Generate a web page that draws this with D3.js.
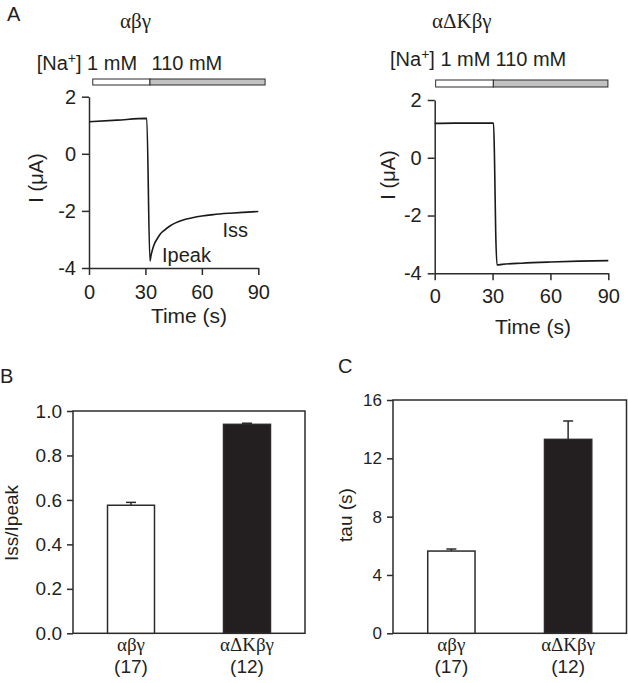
<!DOCTYPE html>
<html><head><meta charset="utf-8">
<script src="https://cdn.jsdelivr.net/npm/d3@7"></script>
<style>
body{margin:0;background:#fff}
svg{display:block}
text{font-family:"Liberation Sans",Arial,Helvetica,sans-serif;fill:#231f20}
.greek{font-family:"Liberation Serif","Times New Roman",serif}
</style>
</head><body>
<svg id="c" width="628" height="683"></svg>
<script>
// ---------- DATA ----------
const traceTitles = ["αβγ", "αΔKβγ"];
const naLabels = ["1 mM", "110 mM"];
// stimulus segments [start, split, end] in seconds
const stimWT = [2, 32.4, 93.6];
const stimDK = [0.5, 30.4, 89.8];
const timeTicks = [0, 30, 60, 90];
const currentTicks = [-4, -2, 0, 2];

const wtTime =    [0,    15,   30.7, 32.4,  33,    34,   35,    36.5,  38,   40,    43,    46,    50,    55,    60,    66,    75,    82,    90];
const wtCurrent = [1.12, 1.18, 1.24, -3.75, -3.55, -3.3, -3.12, -2.95, -2.8, -2.68, -2.53, -2.42, -2.32, -2.24, -2.18, -2.13, -2.08, -2.05, -2.02];

const dkTime =    [0,    10,   20,   30.5, 31.0, 31.6,  32.3,  35,    45,    60,    75,    90];
const dkCurrent = [1.19, 1.2,  1.2,  1.2,  0.0,  -2.5,  -3.71, -3.69, -3.65, -3.61, -3.58, -3.56];

const groups = ["αβγ", "αΔKβγ"];
const groupN = ["(17)", "(12)"];
const ratioMean = [0.576, 0.94];
const ratioSem  = [0.013, 0.005];
const ratioTicks = [0, 0.2, 0.4, 0.6, 0.8, 1.0];
const tauMean = [5.64, 13.3];
const tauSem  = [0.14, 1.26];
const tauTicks = [0, 4, 8, 12, 16];
const barFills = ["#ffffff", "#231f20"];

// ---------- DRAW ----------
const svg = d3.select("#c");
const ink = "#2b2b2b";

function tracePanel(cfg){
  const g = svg.append("g");
  const x = d3.scaleLinear().domain([0,90]).range([cfg.x0, cfg.x1]);
  const y = d3.scaleLinear().domain([-4,2]).range([cfg.y0, cfg.y1]);
  const ya = g.append("g").attr("transform",`translate(${cfg.x0},0)`)
    .call(d3.axisLeft(y).tickValues(currentTicks).tickFormat(d=>String(d)).tickSize(7).tickPadding(6).tickSizeOuter(0));
  const xa = g.append("g").attr("transform",`translate(0,${cfg.y0})`)
    .call(d3.axisBottom(x).tickValues(timeTicks).tickSize(7).tickPadding(cfg.xpad).tickSizeOuter(0));
  [ya,xa].forEach(a=>{
    a.selectAll("path,line").attr("stroke",ink).attr("stroke-width",1.5);
    a.selectAll("text").attr("font-size",20).attr("fill","#231f20").style("font-family","'Liberation Sans',Arial,sans-serif");
  });
  const line = d3.line().x((d,i)=>x(cfg.t[i])).y((d,i)=>y(cfg.v[i])).curve(d3.curveMonotoneX);
  g.append("path").datum(cfg.v).attr("d",line).attr("fill","none").attr("stroke","#1a1a1a").attr("stroke-width",1.6);
  const s = cfg.stim;
  g.append("rect").attr("x",x(s[0])).attr("y",cfg.barY).attr("width",x(s[1])-x(s[0])).attr("height",cfg.barH)
    .attr("fill","#fff").attr("stroke",ink).attr("stroke-width",1);
  g.append("rect").attr("x",x(s[1])).attr("y",cfg.barY).attr("width",x(s[2])-x(s[1])).attr("height",cfg.barH)
    .attr("fill","#c2c2c2").attr("stroke",ink).attr("stroke-width",1);
  const t = g.append("text").attr("x",cfg.naX).attr("y",cfg.naY).attr("font-size",20);
  t.append("tspan").text("[Na");
  t.append("tspan").attr("font-size",14).attr("dy",-7).text("+");
  t.append("tspan").attr("dy",7).text("] "+naLabels[0]);
  g.append("text").attr("x",cfg.na2X).attr("y",cfg.naY).attr("font-size",20).text(naLabels[1]);
  g.append("text").attr("class","greek").attr("x",cfg.titleX).attr("y",28).attr("font-size",21).text(cfg.title);
  g.append("text").attr("transform",`translate(${cfg.ylabX},${cfg.ylabY}) rotate(-90)`).attr("text-anchor","middle").attr("font-size",20)
    .text("I (μA)");
  g.append("text").attr("x",cfg.xlabX).attr("y",cfg.xlabY).attr("text-anchor","middle").attr("font-size",21).text("Time (s)");
  return {x,y,g};
}

const A1 = tracePanel({x0:89,x1:258.3,y0:268,y1:96.7,t:wtTime,v:wtCurrent,stim:stimWT,barY:79,barH:6,
  naX:36.7,na2X:151.5,naY:70,title:traceTitles[0],titleX:120,ylabX:43,ylabY:178,xlabX:189,xlabY:323,xpad:10});
const A2 = tracePanel({x0:434.7,x1:608.3,y0:273.3,y1:100,t:dkTime,v:dkCurrent,stim:stimDK,barY:80,barH:7,
  naX:390,na2X:495.5,naY:66,title:traceTitles[1],titleX:432,ylabX:395,ylabY:175,xlabX:533,xlabY:334,xpad:9});

A1.g.append("text").attr("x",222.5).attr("y",237).attr("font-size",20).text("Iss");
A1.g.append("text").attr("x",162).attr("y",262).attr("font-size",20).text("Ipeak");

svg.append("text").attr("x",7).attr("y",21).attr("font-size",20).text("A");
svg.append("text").attr("x",0).attr("y",383).attr("font-size",20).text("B");
svg.append("text").attr("x",338).attr("y",373).attr("font-size",20).text("C");

function barPanel(cfg){
  const g = svg.append("g");
  const x = d3.scaleBand().domain(groups).range([cfg.left,cfg.right]).paddingInner(0.595).paddingOuter(0.2975);
  const y = d3.scaleLinear().domain(cfg.domain).range([cfg.bottom,cfg.top]);
  g.append("rect").attr("x",cfg.left).attr("y",cfg.top).attr("width",cfg.right-cfg.left).attr("height",cfg.bottom-cfg.top)
    .attr("fill","none").attr("stroke",ink).attr("stroke-width",1.5);
  groups.forEach((k,i)=>{
    const cx = x(k)+x.bandwidth()/2;
    g.append("line").attr("x1",cx).attr("x2",cx).attr("y1",y(cfg.mean[i])).attr("y2",y(cfg.mean[i]+cfg.sem[i]))
      .attr("stroke",ink).attr("stroke-width",1.5);
    g.append("line").attr("x1",cx-5).attr("x2",cx+5).attr("y1",y(cfg.mean[i]+cfg.sem[i])).attr("y2",y(cfg.mean[i]+cfg.sem[i]))
      .attr("stroke",ink).attr("stroke-width",1.5);
  });
  g.selectAll("rect.bar").data(cfg.mean).join("rect").attr("class","bar")
    .attr("x",(d,i)=>x(groups[i])).attr("width",x.bandwidth())
    .attr("y",d=>y(d)).attr("height",d=>cfg.bottom-y(d))
    .attr("fill",(d,i)=>barFills[i]).attr("stroke",ink).attr("stroke-width",1.5);
  const ya = g.append("g").attr("transform",`translate(${cfg.left},0)`)
    .call(d3.axisLeft(y).tickValues(cfg.ticks).tickFormat(cfg.fmt).tickSize(6).tickPadding(5).tickSizeOuter(0));
  ya.select("path").remove();
  ya.selectAll("line").attr("stroke",ink).attr("stroke-width",1.5);
  ya.selectAll("text").attr("font-size",cfg.tfs).attr("fill","#231f20").style("font-family","'Liberation Sans',Arial,sans-serif");
  groups.forEach((k,i)=>{
    const cx = x(k)+x.bandwidth()/2;
    g.append("text").attr("class","greek").attr("x",cx).attr("y",cfg.bottom+18).attr("text-anchor","middle").attr("font-size",19).text(k);
    g.append("text").attr("x",cx).attr("y",cfg.bottom+40).attr("text-anchor","middle").attr("font-size",19).text(groupN[i]);
  });
  g.append("text").attr("transform",`translate(${cfg.ylabX},${cfg.ylabY}) rotate(-90)`).attr("text-anchor","middle")
    .attr("font-size",19).text(cfg.ylab);
}

barPanel({left:73,right:305,top:411,bottom:633.3,domain:[0,1],mean:ratioMean,sem:ratioSem,ticks:ratioTicks,
  fmt:d3.format(".1f"),tfs:19,ylab:"Iss/Ipeak",ylabX:18,ylabY:523});
barPanel({left:393,right:626.5,top:400,bottom:633.3,domain:[0,16],mean:tauMean,sem:tauSem,ticks:tauTicks,
  fmt:d3.format("d"),tfs:17,ylab:"tau (s)",ylabX:352,ylabY:515});
</script>
</body></html>
